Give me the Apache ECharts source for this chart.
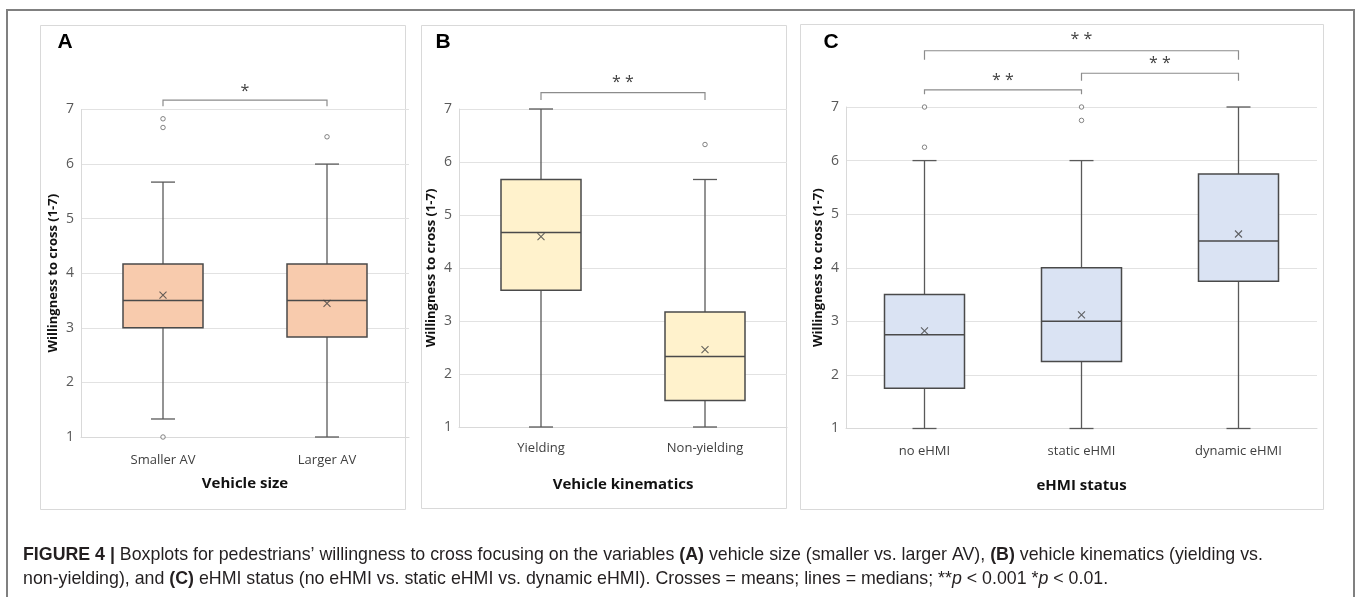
<!DOCTYPE html>
<html>
<head>
<meta charset="utf-8">
<script src="https://cdn.jsdelivr.net/npm/echarts@6/dist/echarts.min.js"></script>
<style>
html,body{margin:0;padding:0;background:#fff;}
#chart{width:1358px;height:597px;}
</style>
</head>
<body>
<div id="chart"></div>
<script>
// ---------- data ----------
const catsA = ['Smaller AV', 'Larger AV'];
const catsB = ['Yielding', 'Non-yielding'];
const catsC = ['no eHMI', 'static eHMI', 'dynamic eHMI'];
// [min, Q1, median, Q3, max]
const boxA = [[1.33, 3.0, 3.5, 4.17, 5.67], [1.0, 2.83, 3.5, 4.17, 6.0]];
const boxB = [[1.0, 3.58, 4.67, 5.67, 7.0], [1.0, 1.5, 2.33, 3.17, 5.67]];
const boxC = [[1.0, 1.75, 2.75, 3.5, 6.0], [1.0, 2.25, 3.0, 4.0, 6.0], [1.0, 3.75, 4.5, 5.75, 7.0]];
const meanA = [3.6, 3.45];
const meanB = [4.59, 2.46];
const meanC = [2.82, 3.12, 4.63];
// [category index, value]
const outA = [[0, 6.83], [0, 6.67], [0, 1.0], [1, 6.5]];
const outB = [[1, 6.33]];
const outC = [[0, 7.0], [0, 6.25], [1, 7.0], [1, 6.75]];
const yTicks = {min: 1, max: 7, interval: 1};
// significance brackets: [from, to, bar value, end value, star value, label]
const sigA = [[0, 1, 7.17, 7.06, 7.34, '*']];
const sigB = [[0, 1, 7.31, 7.17, 7.51, '**']];
const sigC = [[0, 2, 8.05, 7.88, 8.27, '**'], [1, 2, 7.63, 7.49, 7.82, '**'], [0, 1, 7.32, 7.24, 7.50, '**']];
const xTitles = ['Vehicle size', 'Vehicle kinematics', 'eHMI status'];
const yTitle = 'Willingness to cross (1-7)';

const fills = ['#F8CBAD', '#FFF2CC', '#DAE3F3'];
const FONT = 'Open Sans';

const chart = echarts.init(document.getElementById('chart'), null, {renderer: 'canvas'});

const grids = [
  {left: 81, top: 109.5, width: 328, height: 327.5},
  {left: 459, top: 109, width: 328, height: 318},
  {left: 846, top: 107, width: 471, height: 321.5}
];
const xNameGaps = [39, 50, 50];
const xLabelMargins = [17, 15, 16];
const cats = [catsA, catsB, catsC];
const boxes = [boxA, boxB, boxC];
const means = [meanA, meanB, meanC];
const outs = [outA, outB, outC];
const sigs = [sigA, sigB, sigC];

function renderBox(params, api) {
  const x = api.value(0);
  const pMin = api.coord([x, api.value(1)]);
  const pQ1 = api.coord([x, api.value(2)]);
  const pMed = api.coord([x, api.value(3)]);
  const pQ3 = api.coord([x, api.value(4)]);
  const pMax = api.coord([x, api.value(5)]);
  const cx = pMed[0];
  const half = 40, cap = 12;
  const lineStyle = {stroke: '#595959', lineWidth: 1.3};
  return {
    type: 'group',
    children: [
      {type: 'line', shape: {x1: cx, y1: pQ3[1], x2: cx, y2: pMax[1]}, style: lineStyle},
      {type: 'line', shape: {x1: cx - cap, y1: pMax[1], x2: cx + cap, y2: pMax[1]}, style: lineStyle},
      {type: 'line', shape: {x1: cx, y1: pQ1[1], x2: cx, y2: pMin[1]}, style: lineStyle},
      {type: 'line', shape: {x1: cx - cap, y1: pMin[1], x2: cx + cap, y2: pMin[1]}, style: lineStyle},
      {type: 'rect', shape: {x: cx - half, y: pQ3[1], width: 2 * half, height: pQ1[1] - pQ3[1]},
        style: {fill: fills[params.seriesIndex / 3 | 0], stroke: '#4a4a4a', lineWidth: 1.5}},
      {type: 'line', shape: {x1: cx - half, y1: pMed[1], x2: cx + half, y2: pMed[1]}, style: {stroke: '#4a4a4a', lineWidth: 1.5}}
    ]
  };
}

const xAxis = [], yAxis = [], series = [];
for (let i = 0; i < 3; i++) {
  xAxis.push({
    gridIndex: i, type: 'category', data: cats[i],
    axisTick: {show: false},
    axisLine: {show: true, lineStyle: {color: '#d9d9d9'}},
    axisLabel: {color: '#404040', fontSize: 13, margin: xLabelMargins[i], fontFamily: FONT},
    name: xTitles[i], nameLocation: 'middle', nameGap: xNameGaps[i],
    nameTextStyle: {fontWeight: 'bold', fontSize: 15, color: '#111', fontFamily: FONT}
  });
  yAxis.push({
    gridIndex: i, type: 'value', min: yTicks.min, max: yTicks.max, interval: yTicks.interval,
    axisLine: {show: true, lineStyle: {color: '#d9d9d9'}},
    axisTick: {show: false},
    splitLine: {lineStyle: {color: '#e2e2e2'}},
    axisLabel: {color: '#595959', fontSize: 14, margin: 7, fontFamily: FONT},
    name: yTitle, nameLocation: 'middle', nameGap: 21, nameRotate: 90,
    nameTextStyle: {fontWeight: 'bold', fontSize: 13, color: '#111', fontFamily: FONT}
  });
  series.push({
    type: 'custom', xAxisIndex: i, yAxisIndex: i,
    data: boxes[i].map((b, k) => [k].concat(b)),
    encode: {x: 0, y: [1, 2, 3, 4, 5]},
    renderItem: renderBox, z: 2, silent: true
  });
  series.push({
    type: 'scatter', xAxisIndex: i, yAxisIndex: i,
    data: outs[i], symbol: 'circle', symbolSize: 4.5,
    itemStyle: {color: '#fff', borderColor: '#666', borderWidth: 1}, z: 3, silent: true
  });
  series.push({
    type: 'scatter', xAxisIndex: i, yAxisIndex: i,
    data: means[i].map((m, k) => [k, m]),
    symbol: 'path://M0 0L10 10M10 0L0 10', symbolSize: 7,
    itemStyle: {color: 'rgba(0,0,0,0)', borderColor: '#404040', borderWidth: 1.1}, z: 4, silent: true
  });
}

const CAP = '17.8px "Liberation Sans"';
const baseGraphic = [
  // outer frame
  {type: 'rect', shape: {x: 7, y: 10, width: 1347, height: 600}, style: {fill: 'none', stroke: '#808080', lineWidth: 2}, z: -10, silent: true},
  // panel boxes
  {type: 'rect', shape: {x: 40.5, y: 25.5, width: 365, height: 484}, style: {fill: '#fff', stroke: '#d9d9d9', lineWidth: 1}, z: -9, silent: true},
  {type: 'rect', shape: {x: 421.5, y: 25.5, width: 365, height: 483}, style: {fill: 'none', stroke: '#d9d9d9', lineWidth: 1}, z: -9, silent: true},
  {type: 'rect', shape: {x: 800.5, y: 24.5, width: 523, height: 485}, style: {fill: 'none', stroke: '#d9d9d9', lineWidth: 1}, z: -9, silent: true},
  // panel letters
  {type: 'text', x: 65, y: 42, style: {text: 'A', font: 'bold 21px "Liberation Sans"', fill: '#000', align: 'center', verticalAlign: 'middle'}},
  {type: 'text', x: 443, y: 42, style: {text: 'B', font: 'bold 21px "Liberation Sans"', fill: '#000', align: 'center', verticalAlign: 'middle'}},
  {type: 'text', x: 831, y: 42, style: {text: 'C', font: 'bold 21px "Liberation Sans"', fill: '#000', align: 'center', verticalAlign: 'middle'}},
  // caption
  {type: 'text', x: 23, y: 555, style: {
    text: '{b|FIGURE 4 |} Boxplots for pedestrians’ willingness to cross focusing on the variables {b|(A)} vehicle size (smaller vs. larger AV), {b|(B)} vehicle kinematics (yielding vs.',
    font: CAP, fill: '#231f20', verticalAlign: 'middle',
    rich: {b: {font: 'bold ' + CAP, fill: '#231f20'}}
  }},
  {type: 'text', x: 23, y: 579, style: {
    text: 'non-yielding), and {b|(C)} eHMI status (no eHMI vs. static eHMI vs. dynamic eHMI). Crosses = means; lines = medians; **{i|p} < 0.001 *{i|p} < 0.01.',
    font: CAP, fill: '#231f20', verticalAlign: 'middle',
    rich: {b: {font: 'bold ' + CAP, fill: '#231f20'}, i: {font: 'italic ' + CAP, fill: '#231f20'}}
  }}
];

chart.setOption({
  animation: false,
  backgroundColor: '#fff',
  textStyle: {fontFamily: FONT},
  grid: grids,
  xAxis: xAxis,
  yAxis: yAxis,
  series: series,
  graphic: baseGraphic
});

// significance brackets, positioned through the axes' own scales
const extra = [];
for (let i = 0; i < 3; i++) {
  sigs[i].forEach(s => {
    const [from, to, bar, end, star, label] = s;
    const a1 = chart.convertToPixel({gridIndex: i}, [from, end]);
    const a2 = chart.convertToPixel({gridIndex: i}, [from, bar]);
    const b2 = chart.convertToPixel({gridIndex: i}, [to, bar]);
    const b1 = chart.convertToPixel({gridIndex: i}, [to, end]);
    const st = chart.convertToPixel({gridIndex: i}, [from, star]);
    extra.push({type: 'polyline', shape: {points: [a1, a2, b2, b1]}, style: {stroke: '#8c8c8c', lineWidth: 1.2, fill: 'none'}, silent: true});
    extra.push({type: 'text', x: (a1[0] + b1[0]) / 2, y: st[1], style: {text: label.split('').join(' '), font: '16px "Open Sans"', fill: '#404040', align: 'center', verticalAlign: 'middle'}});
  });
}
chart.setOption({graphic: baseGraphic.concat(extra)});
</script>
</body>
</html>
